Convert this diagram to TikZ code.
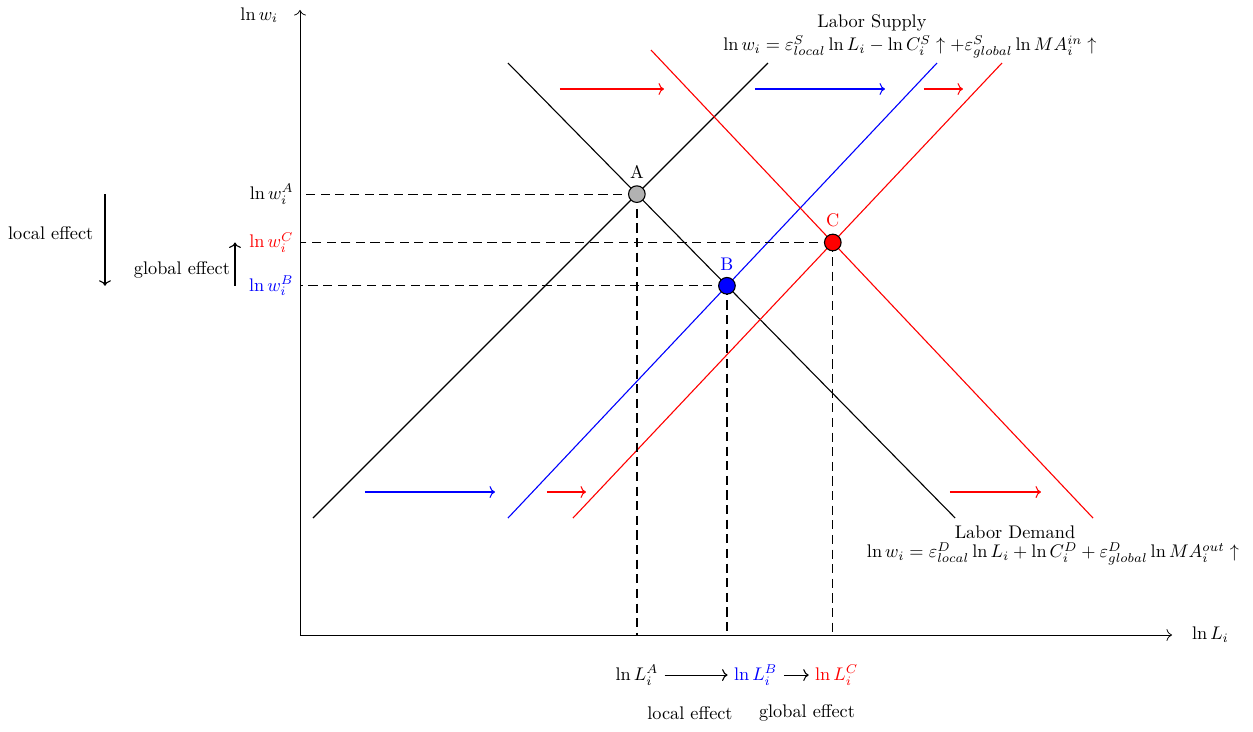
\documentclass[tikz,border=0pt]{standalone}
\usetikzlibrary{intersections,positioning,arrows.meta}

\begin{document}
\begin{tikzpicture}[x=1cm,y=1cm,>={Computer Modern Rightarrow[length=3pt,width=6.5pt]},
  curve/.style={line width=0.6pt},
  moveArrow/.style={->,line width=0.6pt},
  guide/.style={line width=0.7pt,dash pattern=on 5pt off 3pt},
  eqpoint/.style={circle,draw=black,line width=0.6pt,minimum size=0.32cm,inner sep=0pt,label distance=2pt}]
\useasboundingbox (-5.769,-1.865) rectangle (18.327,12.212);
\coordinate (O) at (0,0);
\coordinate (lrow) at (0,-0.77);
\coordinate (lx) at (-3.75,0);
\coordinate (gx) at (-1.25,0);
\draw[->,line width=0.4pt] (O) -- (16.77,0);
\draw[->,line width=0.4pt] (O) -- (0,12.02);
\node[anchor=west] (xlab) at (17.03,0) {$\ln L_i$};
\node[anchor=east] (ylab) at (-0.30,11.92) {$\ln w_i$};
\draw[curve,name path=supA] (0.25,2.25) -- (9,11);
\draw[curve,name path=demA] (4,11) -- (12.6,2.25);
\draw[curve,blue,name path=supB] (4,2.25) -- (12.25,11);
\draw[curve,red,name path=supC] (5.25,2.25) -- (13.5,11);
\draw[curve,red,name path=demC] (6.75,11.25) -- (15.25,2.25);
\path[name intersections={of=supA and demA,by=pA}];
\path[name intersections={of=supB and demA,by=pB}];
\path[name intersections={of=supC and demC,by=pC}];
\draw[moveArrow,red] (5,10.5) -- (7,10.5);
\draw[moveArrow,blue] (8.75,10.5) -- (11.25,10.5);
\draw[moveArrow,red] (12,10.5) -- (12.75,10.5);
\draw[moveArrow,blue] (1.25,2.75) -- (3.75,2.75);
\draw[moveArrow,red] (4.75,2.75) -- (5.5,2.75);
\draw[moveArrow,red] (12.5,2.75) -- (14.25,2.75);
\draw[guide] (pA) -- (pA -| O);
\draw[guide] (pA) -- (pA |- O);
\draw[guide] (pB) -- (pB -| O);
\draw[guide] (pB) -- (pB |- O);
\draw[guide] (pC) -- (pC -| O);
\draw[guide] (pC) -- (pC |- O);
\node[eqpoint,fill=black!30,label={above:A}] (A) at (pA) {};
\node[eqpoint,fill=blue,label={[blue]above:B}] (B) at (pB) {};
\node[eqpoint,fill=red,label={[red]above:C}] (C) at (pC) {};
\node[anchor=east] (wA) at (pA -| O) {$\ln w_i^A$};
\node[anchor=east,red] (wC) at (pC -| O) {$\ln w_i^C$};
\node[anchor=east,blue] (wB) at (pB -| O) {$\ln w_i^B$};
\node (supTitle) at (11.0,11.77) {Labor Supply};
\node (supEq) at (11.73,11.31) {$\ln w_i = \varepsilon^S_{local} \ln L_i - \ln C^S_i \uparrow + \varepsilon^S_{global} \ln MA^{in}_i \uparrow$};
\node (demTitle) at (13.75,1.98) {Labor Demand};
\node (demEq) at (14.48,1.56) {$\ln w_i = \varepsilon^D_{local} \ln L_i + \ln C^D_i + \varepsilon^D_{global} \ln MA^{out}_i \uparrow$};
\node (LA) at (pA |- lrow) {$\ln L_i^A$};
\node[blue,right=1.21cm of LA] (LB) {$\ln L_i^B$};
\node[red,right=0.48cm of LB] (LC) {$\ln L_i^C$};
\draw[->,line width=0.6pt] (LA) -- (LB);
\draw[->,line width=0.6pt] (LB) -- (LC);
\node (localL) at (7.5,-1.5) {local effect};
\node (globalL) at (9.75,-1.5) {global effect};
\draw[->,line width=0.6pt] (pA -| lx) -- (pB -| lx);
\node[anchor=east] (localW) at (-3.85,7.72) {local effect};
\draw[->,line width=0.6pt] (pB -| gx) -- (pC -| gx);
\node (globalW) at (-2.27,7.02) {global effect};
\end{tikzpicture}
\end{document}
